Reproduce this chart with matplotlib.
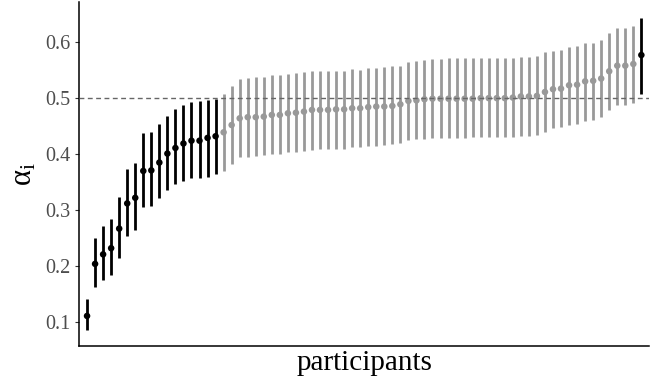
import numpy as np
import matplotlib
matplotlib.use('Agg')
import matplotlib.pyplot as plt

# estimated alpha_i per participant (sorted), with interval bounds
alpha_mean = [0.111, 0.204, 0.221, 0.232, 0.267, 0.312, 0.322, 0.370, 0.371, 0.385,
              0.401, 0.411, 0.419, 0.424, 0.424, 0.429, 0.432, 0.439, 0.452, 0.464,
              0.466, 0.466, 0.467, 0.470, 0.470, 0.473, 0.474, 0.476, 0.479, 0.479,
              0.479, 0.480, 0.480, 0.482, 0.482, 0.484, 0.485, 0.485, 0.486, 0.489,
              0.495, 0.496, 0.498, 0.499, 0.499, 0.499, 0.499, 0.499, 0.499, 0.500,
              0.500, 0.500, 0.500, 0.501, 0.503, 0.503, 0.504, 0.511, 0.516, 0.517,
              0.523, 0.524, 0.530, 0.531, 0.535, 0.548, 0.558, 0.558, 0.561, 0.577]
alpha_lower = [0.086, 0.162, 0.176, 0.184, 0.214, 0.254, 0.264, 0.306, 0.308, 0.321,
               0.336, 0.346, 0.352, 0.357, 0.357, 0.360, 0.364, 0.370, 0.382, 0.395,
               0.395, 0.396, 0.398, 0.400, 0.401, 0.403, 0.404, 0.405, 0.408, 0.409,
               0.410, 0.410, 0.410, 0.412, 0.413, 0.414, 0.414, 0.416, 0.418, 0.420,
               0.426, 0.427, 0.427, 0.428, 0.429, 0.429, 0.429, 0.429, 0.430, 0.430,
               0.430, 0.430, 0.430, 0.431, 0.433, 0.433, 0.435, 0.440, 0.446, 0.448,
               0.452, 0.453, 0.460, 0.461, 0.466, 0.478, 0.487, 0.488, 0.492, 0.507]
alpha_upper = [0.141, 0.251, 0.272, 0.284, 0.324, 0.373, 0.385, 0.437, 0.439, 0.453,
               0.468, 0.480, 0.488, 0.493, 0.495, 0.497, 0.499, 0.508, 0.522, 0.534,
               0.536, 0.538, 0.538, 0.541, 0.541, 0.543, 0.545, 0.546, 0.549, 0.549,
               0.549, 0.549, 0.549, 0.552, 0.551, 0.554, 0.554, 0.555, 0.557, 0.558,
               0.564, 0.567, 0.568, 0.570, 0.570, 0.571, 0.571, 0.571, 0.571, 0.571,
               0.571, 0.571, 0.571, 0.571, 0.574, 0.574, 0.575, 0.582, 0.585, 0.586,
               0.591, 0.594, 0.599, 0.599, 0.604, 0.617, 0.626, 0.625, 0.629, 0.644]
y_ticks = [0.1, 0.2, 0.3, 0.4, 0.5, 0.6]

mean = np.array(alpha_mean)
lower = np.array(alpha_lower)
upper = np.array(alpha_upper)
x = np.arange(1, len(mean) + 1)

# black when the interval excludes 0.5
sig = (upper < 0.5) | (lower > 0.5)
colors = np.where(sig, 'black', '#999999')

plt.rcParams['font.family'] = ['Liberation Serif', 'DejaVu Serif']
plt.rcParams['mathtext.fontset'] = 'custom'
plt.rcParams['mathtext.rm'] = 'Liberation Serif'
plt.rcParams['mathtext.it'] = 'Liberation Serif:italic'

fig = plt.figure(figsize=(6.64, 3.81), dpi=100)
ax = fig.add_axes([0.119, 0.093, 0.859, 0.902])

ax.vlines(x, lower, upper, colors=colors, linewidth=2.0, zorder=2)
ax.scatter(x, mean, c=colors, s=22, linewidths=0, zorder=3)
ax.axhline(0.5, color='#666666', linewidth=1.0, linestyle=(0, (3.5, 2.5)), zorder=4)

ax.set_xlim(0, len(mean) + 1)
ax.margins(y=0.05)
ax.set_yticks(y_ticks)
ax.set_yticklabels([f'{t:.1f}' for t in y_ticks])
ax.set_xticks([])

for side in ['top', 'right']:
    ax.spines[side].set_visible(False)
for side in ['left', 'bottom']:
    ax.spines[side].set_linewidth(1.1)
    ax.spines[side].set_color('black')

ax.tick_params(axis='y', length=3, width=0.8, color='#333333',
               labelcolor='#4d4d4d', labelsize=14.5, pad=3)

ax.set_xlabel('participants', fontsize=21, labelpad=3)
ax.set_ylabel(r'$\mathrm{\alpha}_\mathrm{i}$', fontsize=22, labelpad=5)

fig.savefig('out.png', dpi=100)
